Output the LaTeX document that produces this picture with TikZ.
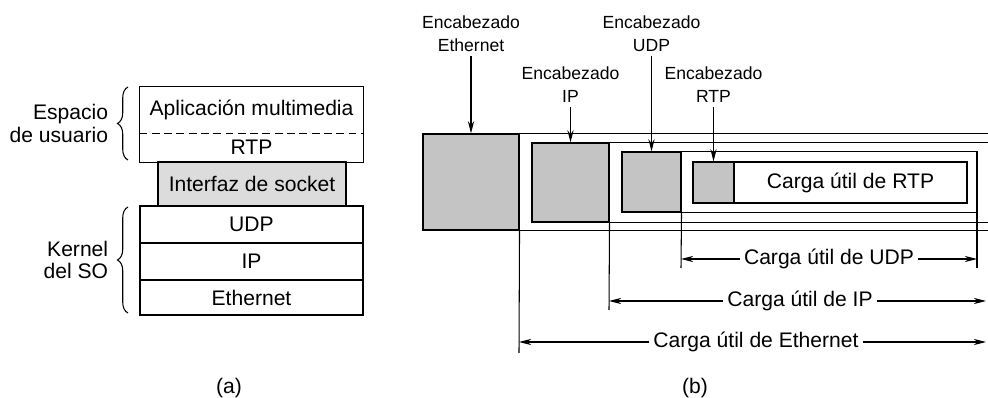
\documentclass[tikz,border=0pt]{standalone}
\usepackage{fontspec}
\setmainfont{Liberation Sans}
\usetikzlibrary{arrows.meta,positioning,fit,decorations.pathreplacing,calc}
\definecolor{hdrgray}{RGB}{196,196,196}
\definecolor{sockgray}{RGB}{220,220,220}

\begin{document}
\begin{tikzpicture}[
    x=0.02cm,y=-0.02cm,
    line width=0.6pt,
    cell/.style={inner sep=0pt},
    ctr/.style={label={[txt,inner sep=0pt]center:#1}},
    hdr/.style={draw,fill=hdrgray,inner sep=0pt},
    lbl/.style={align=center,inner sep=2pt,
                font=\fontsize{10}{13.3}\selectfont},
    txt/.style={inner sep=2pt,font=\fontsize{12}{13}\selectfont},
    side/.style={align=right,inner sep=0pt,left=11pt,
                 font=\fontsize{12}{13}\selectfont},
    arr/.style={-{Stealth[length=7pt,width=3.5pt]}},
    brc/.style={decorate,decoration={brace,amplitude=6pt}}
  ]
  \useasboundingbox (0,0) rectangle (988,398);
  % (a) protocol stack
  \node[cell,ctr={Aplicación multimedia},fit={(140,87) (363,133)}] (app) {};
  \node[cell,ctr=RTP,fit={(140,133) (363,162)}] (rtp) {};
  \draw (app.north west) rectangle (rtp.south east);
  \draw[dash pattern=on 4.5pt off 2.5pt] (app.south west) -- (app.south east);
  \node[cell,draw,fill=sockgray,ctr={Interfaz de socket},
        fit={(158,162) (346,206)}] (sock) {};
  \node[cell,draw,ctr=UDP,fit={(140,206) (363,243)}] (udp) {};
  \node[cell,draw,ctr=IP,fit={(140,243) (363,280)}] (ip) {};
  \node[cell,draw,ctr=Ethernet,fit={(140,280) (363,315)}] (eth) {};
  \draw[brc] (128,160) -- node[side] (usr) {Espacio\\de usuario} (128,87);
  \draw[brc] (128,313) -- node[side] (krn) {Kernel\\del SO} (128,207);
  \node[txt] (capa) at (229,388) {(a)};

  % (b) nested headers
  \coordinate (rgt) at (988,0);
  \coordinate (rgta) at (986,0);
  \node[hdr,fit={(423,134) (519,230)}] (ethh) {};
  \node[hdr,fit={(532,143) (609,222)}] (iph) {};
  \node[hdr,fit={(622,152) (681,212)}] (udph) {};
  \node[hdr,fit={(693,162) (734,203)}] (rtph) {};
  \node[cell,draw,ctr={Carga útil de RTP},fit={(734,162) (967,203)}] (rtpp) {};
  \draw (ethh.north east) -- (ethh.north east -| rgt)
        (ethh.south east) -- (ethh.south east -| rgt);
  \draw (iph.north east) -- (iph.north east -| rgt)
        (iph.south east) -- (iph.south east -| rgt);
  \coordinate (udpe) at (977,268);
  \draw (udph.north east) -| (udpe);
  \draw (udph.south east) -- (udph.south east -| udpe);
  \coordinate (ethe) at (519,353);
  \coordinate (ipe) at (609,310);
  \coordinate (udps) at (681,268);
  \draw (ethh.south east) -- (ethe);
  \draw (iph.south east) -- (ipe);
  \draw (udph.south east) -- (udps);

  \node[lbl,anchor=south] (lethh) at (471,56) {Encabezado\\Ethernet};
  \node[lbl,anchor=south] (liph) at (570.5,107) {Encabezado\\IP};
  \node[lbl,anchor=south] (ludph) at (651.5,56) {Encabezado\\UDP};
  \node[lbl,anchor=south] (lrtph) at (713.5,107) {Encabezado\\RTP};
  \draw[arr] (lethh) -- (ethh);
  \draw[arr] (liph) -- (iph);
  \draw[arr] (ludph) -- (udph);
  \draw[arr] (lrtph) -- (rtph);

  \node[txt] (udpp) at (829,259) {Carga útil de UDP};
  \draw[arr] (udpp) -- (udps |- udpp);
  \draw[arr] (udpp) -- (udpe |- udpp);
  \node[txt] (ipp) at (800,301) {Carga útil de IP};
  \draw[arr] (ipp) -- (ipe |- ipp);
  \draw[arr] (ipp) -- (rgta |- ipp);
  \node[txt] (ethp) at (756,342) {Carga útil de Ethernet};
  \draw[arr] (ethp) -- (ethe |- ethp);
  \draw[arr] (ethp) -- (rgta |- ethp);
  \node[txt] (capb) at (695,388) {(b)};
\end{tikzpicture}
\end{document}
